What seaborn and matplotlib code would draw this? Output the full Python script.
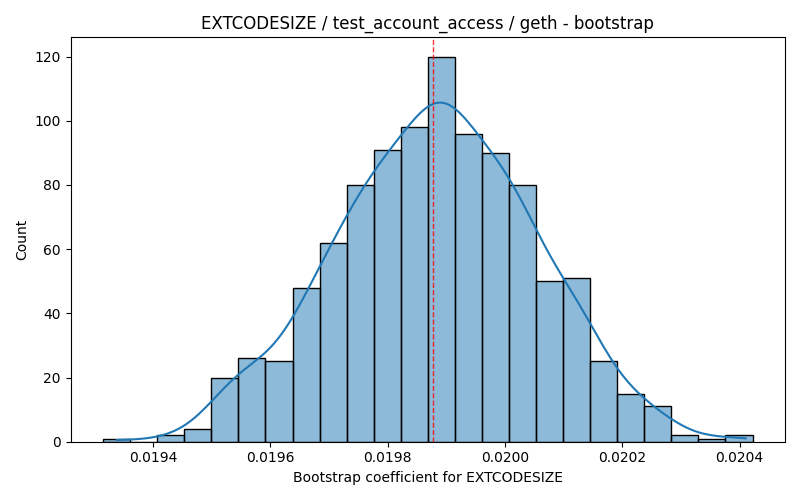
import numpy as np
import matplotlib
matplotlib.use("Agg")
import matplotlib.pyplot as plt
import seaborn as sns

# histogram (1000 bootstrap samples, 24 bins)
bin_start = 0.019315
bin_end = 0.020422
counts = [1, 0, 2, 4, 20, 26, 25, 48, 62, 80, 91, 98,
          120, 96, 90, 80, 50, 51, 25, 15, 11, 2, 1, 2]
estimate = 0.019877

edges = np.linspace(bin_start, bin_end, len(counts) + 1)

# rebuild a sample: each bin's points spread evenly across the bin
samples = np.concatenate([
    lo + (hi - lo) * (np.arange(n) + 0.5) / n
    for lo, hi, n in zip(edges[:-1], edges[1:], counts) if n > 0
])

fig, ax = plt.subplots(figsize=(8, 5), dpi=100)
sns.histplot(samples, bins=edges, kde=True, ax=ax)
ax.axvline(estimate, color="red", linestyle="--", linewidth=1, alpha=0.8)

ax.set_title("EXTCODESIZE / test_account_access / geth - bootstrap")
ax.set_xlabel("Bootstrap coefficient for EXTCODESIZE")
ax.set_ylabel("Count")
plt.tight_layout()
plt.savefig("out.png")
